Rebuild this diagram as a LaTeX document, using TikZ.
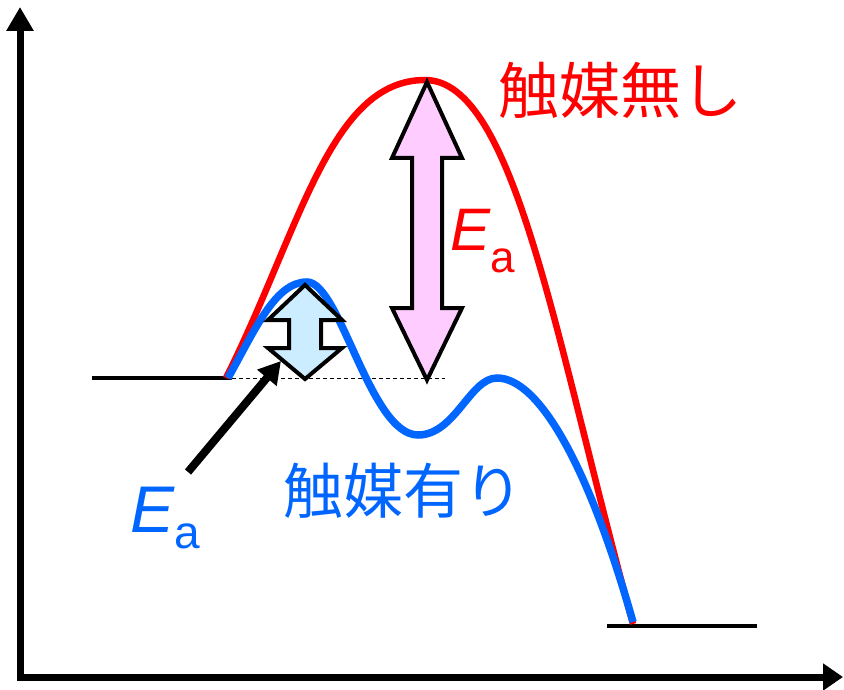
\documentclass[tikz,border=0pt]{standalone}
\usepackage{fontspec}
\setmainfont{Liberation Sans}
\newfontfamily\jpfont{Noto Sans CJK JP}
\usepackage{xcolor}
\definecolor{CatRed}{RGB}{255,0,0}
\definecolor{CatBlue}{RGB}{0,102,255}
\definecolor{PinkFill}{RGB}{255,204,255}
\definecolor{IceFill}{RGB}{204,236,255}
\usepackage{tikz}
\usetikzlibrary{arrows.meta}

\begin{document}
\begin{tikzpicture}[x=1pt, y=-1pt, line join=miter,
    every node/.style={inner sep=0pt, outer sep=0pt},
    level/.style={line width=3.5pt},
    gap/.style={draw=black, line width=4pt, miter limit=10}]
    \useasboundingbox (0,0) rectangle (844,690);

    % --- Ejes ---
    \draw[line width=7pt, -{Triangle[length=24pt, width=26pt]}] (20,680) -- (20,7);
    \draw[line width=7pt, -{Triangle[length=20pt, width=26pt]}] (17,677) -- (843,677);

    % --- Niveles inicial y final ---
    \draw[level] (92,378) -- (232,378);
    \draw[level] (607,626) -- (757,626);
    \draw[line width=1pt, dash pattern=on 4pt off 3pt] (232,378) -- (445,378);

    % --- Curva sin catalizador ---
    \draw[CatRed, line width=6.5pt]
      (226,378) .. controls (300,230) and (330,80) .. (425,80)
                .. controls (515,80) and (555,340) .. (633,624);

    % --- Curva con catalizador ---
    \draw[CatBlue, line width=7.5pt]
      (228,378) .. controls (255,330) and (275,282) .. (307,282)
                .. controls (340,282) and (370,435) .. (418,435)
                .. controls (455,435) and (470,378) .. (497,378)
                .. controls (540,378) and (590,470) .. (633,622);

    % --- Flechas dobles Ea ---
    \filldraw[gap, fill=PinkFill]
      (427,82) -- (462,158) -- (442,158) -- (442,308) -- (462,308) -- (427,380)
      -- (392,308) -- (412,308) -- (412,158) -- (392,158) -- cycle;
    \filldraw[gap, fill=IceFill]
      (305,285) -- (342,320) -- (321,320) -- (321,348) -- (342,348) -- (305,379)
      -- (268,348) -- (289,348) -- (289,320) -- (268,320) -- cycle;

    % --- Etiquetas ---
    \node[CatRed, font=\jpfont\fontsize{61}{61}\selectfont] (nocat) at (620,90) {触媒無し};
    \node[CatBlue, font=\jpfont\fontsize{60}{60}\selectfont] (withcat) at (403,491) {触媒有り};
    \node[CatRed, anchor=base west] (eahigh) at (450,250)
      {\fontsize{60}{60}\selectfont\itshape E\upshape\raisebox{-22pt}{\fontsize{44}{44}\selectfont a}};
    \node[CatBlue, anchor=base west] (ealow) at (130,532)
      {\fontsize{66}{66}\selectfont\itshape E\upshape\raisebox{-16pt}{\fontsize{46}{46}\selectfont a}};

    % --- Flecha indicadora ---
    \coordinate (ptail) at (188,472);
    \coordinate (phead) at (281,361);
    \draw[line width=8pt, -{Triangle[length=22pt, width=24pt]}] (ptail) -- (phead);

\end{tikzpicture}
\end{document}
